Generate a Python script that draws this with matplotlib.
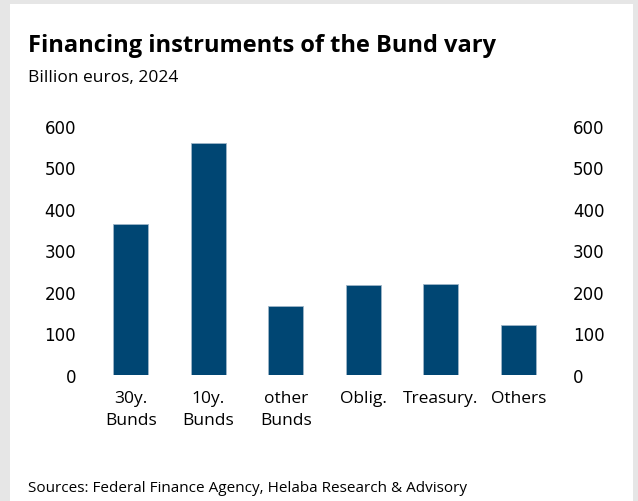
import matplotlib.pyplot as plt
from matplotlib.patches import Rectangle
from matplotlib.ticker import MultipleLocator

# Bund financing by instrument, bn EUR (2024)
categories = ["30y.\nBunds", "10y.\nBunds", "other\nBunds", "Oblig.", "Treasury.", "Others"]
volumes = [364, 557, 167, 216, 218, 120]

bar_color = "#004673"
text_font = "Open Sans"

fig = plt.figure(figsize=(6.38, 5.02), dpi=100)
fig.patch.set_facecolor("#e6e6e6")

# white card on the gray page
fig.patches.append(Rectangle((10 / 638, 0), 623 / 638, 497 / 502,
                             transform=fig.transFigure, facecolor="white",
                             edgecolor="none", zorder=-5))

ax = fig.add_axes([0.144, 0.251, 0.729, 0.497])
ax.set_facecolor("none")
x = range(len(categories))
ax.bar(x, volumes, width=0.45, color=bar_color, edgecolor="#9fb6c8", linewidth=0.6)

ax.set_xlim(-0.5, len(categories) - 0.5)
ax.set_ylim(0, 600)
ax.yaxis.set_major_locator(MultipleLocator(100))
ax.set_xticks(list(x))
ax.set_xticklabels(categories, fontsize=12.5, family=text_font, linespacing=1.45)

for s in ax.spines.values():
    s.set_visible(False)
ax.tick_params(axis="both", length=0)
ax.tick_params(axis="x", pad=11)
ax.tick_params(axis="y", labelsize=12, pad=11.5, labelright=True, right=False)
for lbl in ax.get_yticklabels():
    lbl.set_family("DejaVu Sans")

fig.text(28 / 638, 1 - 52 / 502, "Financing instruments of the Bund vary",
         fontsize=17, fontweight="bold", family=text_font, va="baseline")
fig.text(28 / 638, 1 - 82 / 502, "Billion euros, 2024",
         fontsize=12.5, family=text_font, va="baseline")
fig.text(28 / 638, 1 - 492 / 502, "Sources: Federal Finance Agency, Helaba Research & Advisory",
         fontsize=11, family=text_font, va="baseline")

fig.savefig("out.png", dpi=100, facecolor=fig.get_facecolor())
